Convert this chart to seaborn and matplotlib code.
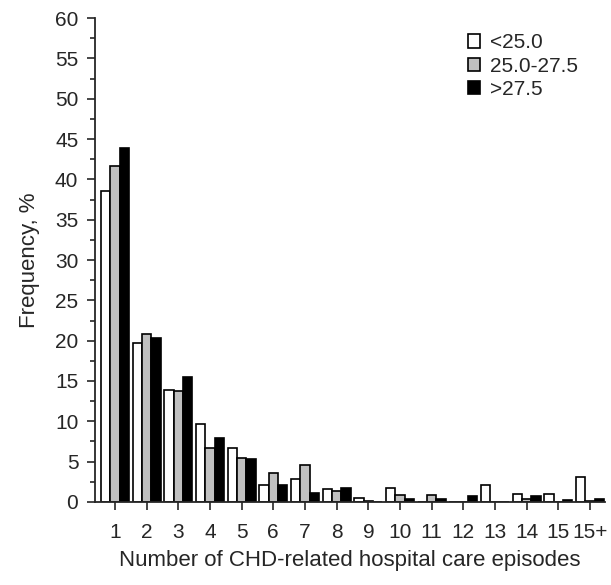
import pandas as pd
import seaborn as sns
import matplotlib.pyplot as plt
from matplotlib.ticker import MultipleLocator

# Number of CHD-related hospital care episodes by BMI group
episodes = ['1', '2', '3', '4', '5', '6', '7', '8', '9', '10', '11', '12', '13', '14', '15', '15+']
bmi_groups = ['<25.0', '25.0-27.5', '>27.5']
low_bmi = [38.5, 19.7, 13.9, 9.7, 6.7, 2.1, 2.9, 1.6, 0.5, 1.7, 0.0, 0.0, 2.05, 1.0, 1.0, 3.1]
mid_bmi = [41.6, 20.8, 13.7, 6.7, 5.5, 3.6, 4.55, 1.4, 0.15, 0.9, 0.85, 0.0, 0.0, 0.4, 0.0, 0.15]
high_bmi = [43.9, 20.3, 15.5, 7.9, 5.3, 2.05, 1.05, 1.75, 0.0, 0.4, 0.35, 0.7, 0.0, 0.7, 0.3, 0.35]

df = pd.DataFrame({
    'episodes': episodes * 3,
    'group': [bmi_groups[0]] * 16 + [bmi_groups[1]] * 16 + [bmi_groups[2]] * 16,
    'freq': low_bmi + mid_bmi + high_bmi,
})

sns.set_style('ticks')
plt.rcParams['font.family'] = ['Liberation Sans', 'DejaVu Sans']

fig, ax = plt.subplots(figsize=(6.11, 5.85), dpi=100)
sns.barplot(data=df, x='episodes', y='freq', hue='group', order=episodes,
            hue_order=bmi_groups, palette=['white', '#c0c0c0', 'black'],
            width=0.88, edgecolor='black', linewidth=1.2, saturation=1, ax=ax)

ax.set_ylim(0, 60)
ax.set_xlim(-0.63, 15.47)
ax.yaxis.set_major_locator(MultipleLocator(5))
ax.yaxis.set_minor_locator(MultipleLocator(2.5))
ax.tick_params(axis='both', labelsize=15, width=1.2, length=6, direction='out')
ax.tick_params(axis='y', which='minor', length=3.5, width=1.2)
ax.tick_params(axis='x', pad=9)
ax.tick_params(axis='y', pad=6)
ax.set_xlabel('Number of CHD-related hospital care episodes', fontsize=16, labelpad=6)
ax.set_ylabel('Frequency, %', fontsize=16, labelpad=11)

for side in ['top', 'right']:
    ax.spines[side].set_visible(False)
ax.spines['left'].set_linewidth(1.3)
ax.spines['bottom'].set_linewidth(1.3)

ax.legend(loc='upper left', frameon=False, fontsize=15, handlelength=0.6,
          handleheight=0.6, handletextpad=0.45, labelspacing=0.2, borderpad=0,
          bbox_to_anchor=(0.711, 0.99))

plt.subplots_adjust(left=0.1555, right=0.99, top=0.969, bottom=0.142)
plt.savefig('out.png', dpi=100)
